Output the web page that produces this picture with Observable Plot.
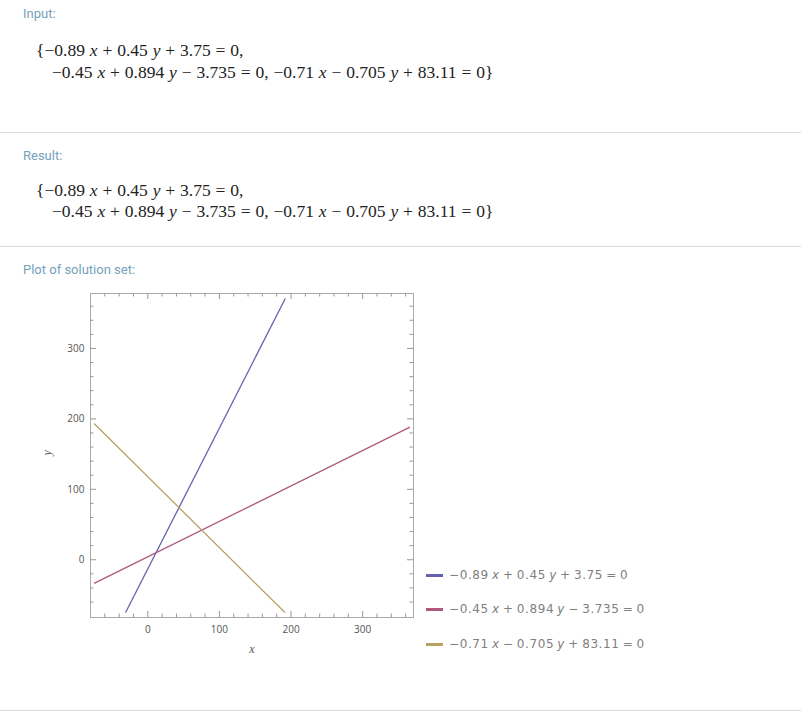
<!DOCTYPE html>
<html>
<head>
<meta charset="utf-8">
<script src="https://cdn.jsdelivr.net/npm/d3@7"></script>
<script src="https://cdn.jsdelivr.net/npm/@observablehq/plot@0.6"></script>
<style>
  html, body { margin: 0; padding: 0; background: #fff; }
  body { width: 801px; height: 716px; position: relative; overflow: hidden; }
  .hdr { position: absolute; left: 23px; font-family: Roboto, "Noto Sans", sans-serif; font-size: 13px; line-height: 15px; color: #74a2ba; }
  .math { position: absolute; font-family: "Liberation Serif", "DejaVu Serif", serif; font-size: 17.5px; line-height: 22px; color: #222; white-space: nowrap; word-spacing: 0.5px; }
  .math i { font-style: italic; }
  .sep { position: absolute; left: 0; width: 801px; height: 1px; background: #dcdcdc; }
  #chart { position: absolute; left: 0; top: 280px; }
  .leg { position: absolute; left: 426px; height: 20px; display: flex; align-items: center; font-family: "DejaVu Sans", sans-serif; font-size: 12px; color: #808080; letter-spacing: 0.6px; word-spacing: -1.2px; white-space: nowrap; }
  .leg .sw { width: 17px; height: 3px; margin-right: 6px; }
  .leg i { font-style: italic; }
</style>
</head>
<body>
<div class="hdr" style="top:6px">Input:</div>
<div class="math" style="left:36px; top:39px">{−0.89 <i>x</i> + 0.45 <i>y</i> + 3.75 = 0,</div>
<div class="math" style="left:52px; top:61px">−0.45 <i>x</i> + 0.894 <i>y</i> − 3.735 = 0, −0.71 <i>x</i> − 0.705 <i>y</i> + 83.11 = 0}</div>
<div class="sep" style="top:132px"></div>
<div class="hdr" style="top:148px">Result:</div>
<div class="math" style="left:36px; top:179px">{−0.89 <i>x</i> + 0.45 <i>y</i> + 3.75 = 0,</div>
<div class="math" style="left:52px; top:200px">−0.45 <i>x</i> + 0.894 <i>y</i> − 3.735 = 0, −0.71 <i>x</i> − 0.705 <i>y</i> + 83.11 = 0}</div>
<div class="sep" style="top:246px"></div>
<div class="hdr" style="top:262px">Plot of solution set:</div>
<div id="chart"></div>
<div id="legend"></div>
<div class="sep" style="top:710px"></div>
<script>
// ---- data ----
const equations = ["eq1", "eq2", "eq3"];
const legendHtml = [
  "−0.89 <i>x</i> + 0.45 <i>y</i> + 3.75 = 0",
  "−0.45 <i>x</i> + 0.894 <i>y</i> − 3.735 = 0",
  "−0.71 <i>x</i> − 0.705 <i>y</i> + 83.11 = 0"
];
const lineColors = ["#6264b0", "#b0597f", "#b8a262"];
// line segment endpoints (data units)
const startX = [-31, -75, -75];
const startY = [-75, -33.6, 193.4];
const endX = [192, 366, 191.5];
const endY = [371, 188.4, -75];
const xDomain = [-80, 371];
const yDomain = [-82, 378];
const xMajor = [0, 100, 200, 300];
const xMinor = [-60, -40, -20, 20, 40, 60, 80, 120, 140, 160, 180, 220, 240, 260, 280, 320, 340, 360];
const yMajor = [0, 100, 200, 300];
const yMinor = [-60, -40, -20, 20, 40, 60, 80, 120, 140, 160, 180, 220, 240, 260, 280, 320, 340, 360];
const legendRowTops = [565, 599, 634];

const lines = equations.map((e, i) => ({eq: e, x1: startX[i], y1: startY[i], x2: endX[i], y2: endY[i], color: lineColors[i]}));

const tickColor = "#999";
const bottomTicks = (data, len) => Plot.ruleX(data, {x: d => d, y1: yDomain[0], y2: yDomain[0], insetTop: -len, stroke: tickColor});
const topTicks = (data, len) => Plot.ruleX(data, {x: d => d, y1: yDomain[1], y2: yDomain[1], insetBottom: -len, stroke: tickColor});
const leftTicks = (data, len) => Plot.ruleY(data, {y: d => d, x1: xDomain[0], x2: xDomain[0], insetRight: -len, stroke: tickColor});
const rightTicks = (data, len) => Plot.ruleY(data, {y: d => d, x1: xDomain[1], x2: xDomain[1], insetLeft: -len, stroke: tickColor});

const chart = Plot.plot({
  width: 430,
  height: 390,
  marginLeft: 90,
  marginRight: 17,
  marginTop: 13,
  marginBottom: 53,
  x: {domain: xDomain},
  y: {domain: yDomain},
  style: {background: "transparent", fontFamily: "'Open Sans', 'DejaVu Sans', sans-serif", overflow: "visible"},
  marks: [
    Plot.link(lines, {x1: "x1", y1: "y1", x2: "x2", y2: "y2", stroke: d => d.color, strokeWidth: 1.3}),
    Plot.frame({stroke: "#aaa"}),
    bottomTicks(xMajor, 6), bottomTicks(xMinor, 3.5),
    topTicks(xMajor, 6), topTicks(xMinor, 3.5),
    leftTicks(yMajor, 6), leftTicks(yMinor, 3.5),
    rightTicks(yMajor, 6), rightTicks(yMinor, 3.5),
    Plot.axisX(xMajor, {anchor: "bottom", tickSize: 0, tickPadding: 8, fontSize: 10, fill: "#555", label: null}),
    Plot.axisY(yMajor, {anchor: "left", tickSize: 0, tickPadding: 6, fontSize: 10, fill: "#555", label: null}),
    Plot.text(["x"], {text: d => d, frameAnchor: "bottom", dy: 35, fontStyle: "italic", fontFamily: "'Liberation Serif', serif", fontSize: 12, fill: "#555"}),
    Plot.text(["y"], {text: d => d, frameAnchor: "left", dx: -43, rotate: -90, fontStyle: "italic", fontFamily: "'Liberation Serif', serif", fontSize: 12, fill: "#555"})
  ]
});
document.getElementById("chart").appendChild(chart);

const legend = document.getElementById("legend");
equations.forEach((e, i) => {
  const row = document.createElement("div");
  row.className = "leg";
  row.style.top = legendRowTops[i] + "px";
  row.innerHTML = `<span class="sw" style="background:${lineColors[i]}"></span><span>${legendHtml[i]}</span>`;
  legend.appendChild(row);
});
</script>
</body>
</html>
